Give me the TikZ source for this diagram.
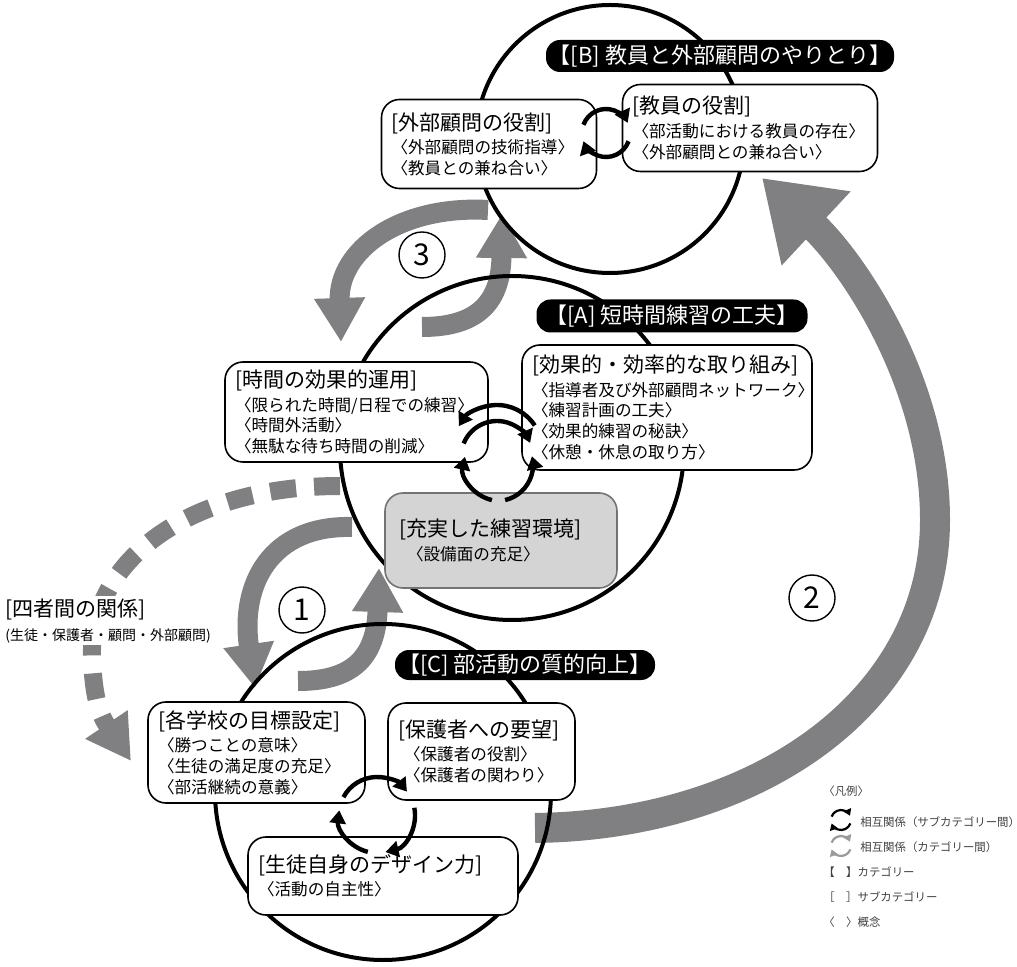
\documentclass[tikz,border=0pt]{standalone}
\usepackage{fontspec}
\setmainfont{Noto Sans CJK JP}
\usetikzlibrary{arrows.meta}
\definecolor{arrowgray}{RGB}{128,128,130}
\definecolor{envgray}{RGB}{212,212,212}
\newcommand{\cattitle}[1]{{\fontsize{10.5}{12}\selectfont #1}}
\begin{document}
\begin{tikzpicture}[x=0.5pt, y=-0.5pt,
  ring/.style={circle, draw, line width=2pt, inner sep=0pt},
  catbox/.style={draw, fill=white, rounded corners=9pt, line width=0.8pt, inner xsep=5pt, inner ysep=0pt, align=left, font=\fontsize{8.3}{10.4}\selectfont},
  catlabel/.style={fill=black, text=white, rounded corners=7pt, inner sep=0pt, font=\fontsize{11}{12}\selectfont},
  grayflow/.style={draw=arrowgray, line width=10pt, -{Triangle[width=24pt,length=22pt]}},
  cycarrow/.style={line width=2.2pt, -{Triangle[width=8pt,length=6.5pt]}},
  legcyc/.style={line width=1.1pt, -{Triangle[width=4pt,length=3.3pt]}},
  numc/.style={circle, draw, line width=0.7pt, minimum size=23pt, inner sep=0pt, font=\fontsize{15}{15}\selectfont},
  legtext/.style={anchor=west, inner sep=0pt, text=black!75, font=\fontsize{5.7}{6}\selectfont}
]
\useasboundingbox (0,0) rectangle (1017,967);
\coordinate (f3a) at (488,210);
\coordinate (f3b) at (341,342);
\draw[grayflow] (f3a) .. controls (400,205) and (338,250) .. (f3b);
\coordinate (f3c) at (422,327);
\coordinate (f3d) at (502,214);
\draw[grayflow] (f3c) .. controls (480,327) and (501,300) .. (f3d);
\coordinate (f1a) at (352,527);
\coordinate (f1b) at (255,688);
\draw[grayflow] (f1a) .. controls (270,525) and (240,585) .. (f1b);
\coordinate (f1c) at (298,681);
\coordinate (f1d) at (379,568);
\draw[grayflow] (f1c) .. controls (350,681) and (376,660) .. (f1d);
\coordinate (f2a) at (535,828);
\coordinate (f2b) at (762,178);
\draw[grayflow, line width=15pt, -{Triangle[width=48pt,length=37pt]}] (f2a) .. controls (760,825) and (935,700) .. (935,520) .. controls (935,380) and (850,260) .. (f2b);
\coordinate (f4a) at (340,486);
\coordinate (f4b) at (131,761);
\draw[grayflow, line width=9pt, dash pattern=on 13pt off 9pt] (f4a) .. controls (190,486) and (88,560) .. (92,660) .. controls (94,700) and (100,715) .. (f4b);
\node[ring, minimum size=134pt] (cirB) at (610,139) {};
\node[ring, minimum size=172pt] (cirA) at (512,448) {};
\node[ring, minimum size=168pt] (cirC) at (383,792) {};
\node[catlabel, minimum width=174pt, minimum height=16pt] (lblB) at (720,56) {【[B] 教員と外部顧問のやりとり】};
\node[catlabel, minimum width=135.5pt, minimum height=16.5pt] (lblA) at (672,316) {【[A] 短時間練習の工夫】};
\node[catlabel, minimum width=130pt, minimum height=15pt] (lblC) at (525,665) {【[C] 部活動の質的向上】};
\node[catbox, text width=97.5pt, minimum height=44.5pt] (boxAdv) at (489,144) {\cattitle{[外部顧問の役割]}\\[1.3pt]〈外部顧問の技術指導〉\\〈教員との兼ね合い〉};
\node[catbox, text width=117.5pt, minimum height=43.5pt] (boxTch) at (750,128) {\cattitle{[教員の役割]}\\[1.3pt]〈部活動における教員の存在〉\\〈外部顧問との兼ね合い〉};
\node[catbox, text width=121.5pt, minimum height=50pt] (boxTime) at (356.5,412) {\cattitle{[時間の効果的運用]}\\[1.3pt]〈限られた時間/日程での練習〉\\〈時間外活動〉\\〈無駄な待ち時間の削減〉};
\node[catbox, text width=135pt, minimum height=62.5pt] (boxEff) at (667,407.5) {\cattitle{[効果的・効率的な取り組み]}\\[1.3pt]〈指導者及び外部顧問ネットワーク〉\\〈練習計画の工夫〉\\〈効果的練習の秘訣〉\\〈休憩・休息の取り方〉};
\node[catbox, fill=envgray, draw=black!55, inner xsep=7pt, text width=102pt, minimum height=47.5pt] (boxEnv) at (501,540.5) {\cattitle{[充実した練習環境]}\\[1.3pt]\hspace*{4pt}〈設備面の充足〉};
\node[catbox, text width=98.5pt, minimum height=50.5pt] (boxGoal) at (256.5,752.5) {\cattitle{[各学校の目標設定]}\\[1.3pt]〈勝つことの意味〉\\〈生徒の満足度の充足〉\\〈部活継続の意義〉};
\node[catbox, text width=83.5pt, minimum height=48.5pt] (boxPar) at (481.5,751.5) {\cattitle{[保護者への要望]}\\[1.3pt]\hspace*{3pt}〈保護者の役割〉\\\hspace*{3pt}〈保護者の関わり〉};
\node[catbox, text width=125pt, minimum height=39pt] (boxSelf) at (383,876) {\cattitle{[生徒自身のデザイン力]}\\[1.3pt]〈活動の自主性〉};
\node[anchor=north west, fill=white, inner sep=1pt, align=left] (lblFour) at (3,596) {\cattitle{[四者間の関係]}\\{\fontsize{7}{8}\selectfont (生徒・保護者・顧問・外部顧問)}};
\coordinate (cycB) at (606,133);
\draw[cycarrow] (cycB) ++(200:24) arc[start angle=200, end angle=335, radius=24];
\draw[cycarrow] (cycB) ++(20:24) arc[start angle=20, end angle=160, radius=24];
\coordinate (cycA) at (497,457);
\draw[cycarrow] (cycA) ++(0,-7) ++(327:45) arc[start angle=327, end angle=212, radius=45];
\draw[cycarrow] (cycA) ++(202:36) arc[start angle=202, end angle=337, radius=36];
\draw[cycarrow] (cycA) ++(3,8) ++(103:36) arc[start angle=103, end angle=193, radius=36];
\draw[cycarrow] (cycA) ++(0,8) ++(77:36) arc[start angle=77, end angle=-14, radius=36];
\coordinate (cycC) at (377,815);
\draw[cycarrow] (cycC) ++(208:38) arc[start angle=208, end angle=322, radius=38];
\draw[cycarrow] (cycC) ++(-11:38) arc[start angle=-11, end angle=77, radius=38];
\draw[cycarrow] (cycC) ++(104:38) arc[start angle=104, end angle=187, radius=38];
\node[numc] (num3) at (422,255) {3};
\node[numc] (num1) at (302,610) {1};
\node[numc] (num2) at (812,598) {2};
\node[legtext] (legHead) at (823,791) {〈凡例〉};
\coordinate (legCyc1) at (841,820);
\draw[legcyc] (legCyc1) ++(200:10) arc[start angle=200, end angle=335, radius=10];
\draw[legcyc] (legCyc1) ++(20:10) arc[start angle=20, end angle=160, radius=10];
\node[legtext] (leg1) at (860,822) {相互関係（サブカテゴリー間）};
\coordinate (legCyc2) at (841,846);
\draw[legcyc, arrowgray!80] (legCyc2) ++(200:10) arc[start angle=200, end angle=335, radius=10];
\draw[legcyc, arrowgray!80] (legCyc2) ++(20:10) arc[start angle=20, end angle=160, radius=10];
\node[legtext] (leg2) at (860,847) {相互関係（カテゴリー間）};
\node[legtext] (leg3) at (823,872) {【　】カテゴリー};
\node[legtext] (leg4) at (823,897) {［　］サブカテゴリー};
\node[legtext] (leg5) at (823,922) {〈　〉概念};
\end{tikzpicture}
\end{document}
